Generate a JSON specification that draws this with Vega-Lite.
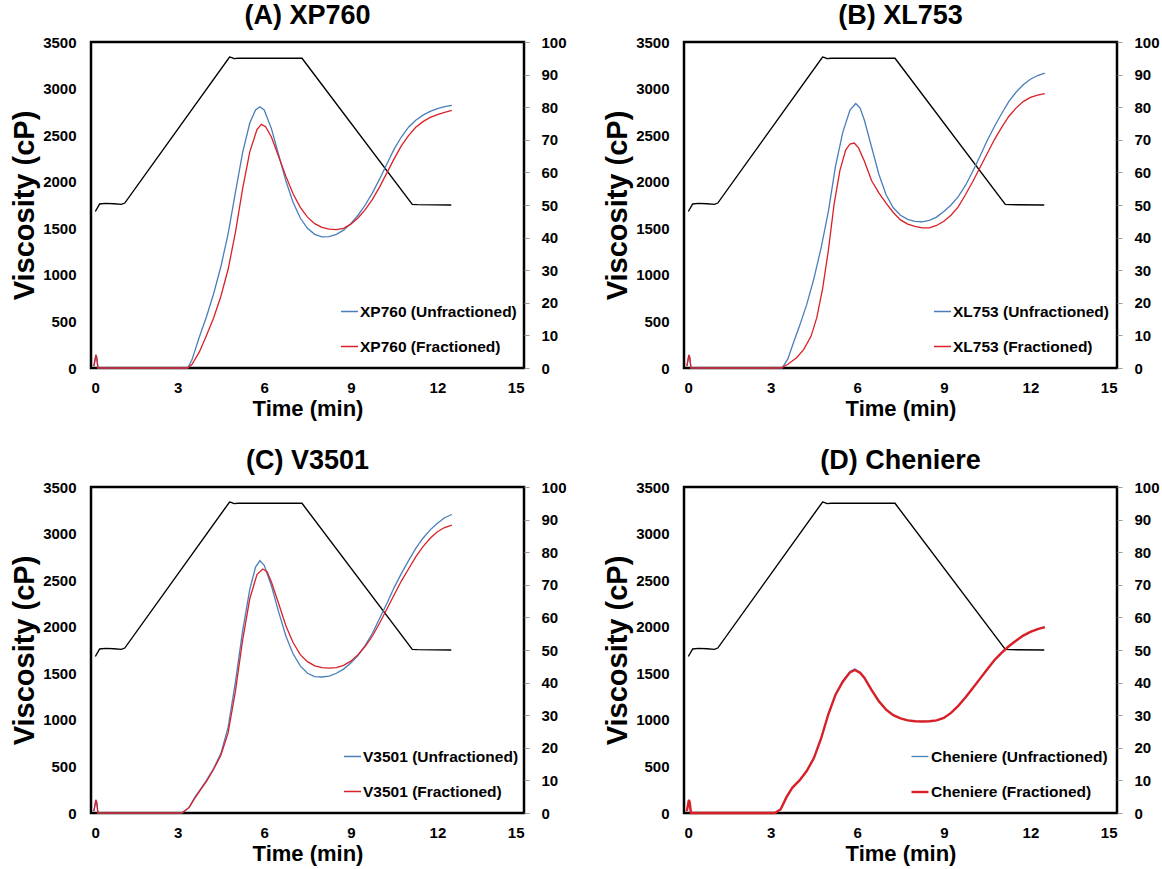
{
  "$schema": "https://vega.github.io/schema/vega-lite/v6.json",
  "background": "white",
  "padding": {"left": 9, "top": 0, "right": 5, "bottom": 5},
  "bounds": "flush",
  "columns": 2,
  "spacing": {"row": 119, "column": 160},
  "resolve": {"scale": {"color": "independent", "strokeWidth": "independent"}, "legend": {"color": "independent", "strokeWidth": "independent"}},
  "config": {
    "font": "Liberation Sans",
    "view": {"stroke": "black", "strokeWidth": 2.5},
    "axis": {"labelFont": "Liberation Sans", "labelFontSize": 15, "labelFontWeight": "bold", "labelColor": "black", "titleFont": "Liberation Sans", "titleFontWeight": "bold", "titleColor": "black", "grid": false, "domain": false, "ticks": false, "format": "d"},
    "axisLeft": {"titleFontSize": 29, "labelPadding": 15, "titlePadding": 3},
    "axisRight": {"ticks": true, "tickSize": 5, "tickColor": "#999999", "tickWidth": 1, "labelPadding": 12},
    "axisBottom": {"titleFontSize": 22, "labelPadding": 12, "titlePadding": 3},
    "title": {"font": "Liberation Sans", "fontSize": 27, "fontWeight": "bold", "color": "black", "frame": "group", "offset": 5},
    "legend": {"orient": "none", "legendX": 249, "legendY": 260, "padding": 0, "labelFont": "Liberation Sans", "labelFontSize": 15.5, "labelFontWeight": "bold", "labelColor": "black", "symbolType": "stroke", "symbolSize": 289, "symbolStrokeWidth": 1.5, "rowPadding": 17, "labelOffset": 1, "labelLimit": 400}
  },
  "datasets": {
    "temp": [
      {"t": 0.15, "temp": 48.0}, {"t": 0.3, "temp": 50.3}, {"t": 0.5, "temp": 50.5}, {"t": 0.8, "temp": 50.4},
      {"t": 1.05, "temp": 50.2}, {"t": 1.17, "temp": 50.6}, {"t": 4.8, "temp": 95.4}, {"t": 4.88, "temp": 95.2},
      {"t": 4.95, "temp": 94.9}, {"t": 5.1, "temp": 95.0}, {"t": 7.31, "temp": 95.0}, {"t": 11.13, "temp": 50.2},
      {"t": 11.3, "temp": 50.1}, {"t": 12.48, "temp": 50.0}
    ],
    "visc": [
      {"panel": "A", "series": "XP760 (Unfractioned)", "t": 0.1, "v": 20},
      {"panel": "A", "series": "XP760 (Unfractioned)", "t": 0.17, "v": 140},
      {"panel": "A", "series": "XP760 (Unfractioned)", "t": 0.2, "v": 110},
      {"panel": "A", "series": "XP760 (Unfractioned)", "t": 0.24, "v": 0},
      {"panel": "A", "series": "XP760 (Unfractioned)", "t": 1, "v": 0},
      {"panel": "A", "series": "XP760 (Unfractioned)", "t": 2, "v": 0},
      {"panel": "A", "series": "XP760 (Unfractioned)", "t": 3, "v": 0},
      {"panel": "A", "series": "XP760 (Unfractioned)", "t": 3.35, "v": 0},
      {"panel": "A", "series": "XP760 (Unfractioned)", "t": 3.5, "v": 90},
      {"panel": "A", "series": "XP760 (Unfractioned)", "t": 3.75, "v": 330},
      {"panel": "A", "series": "XP760 (Unfractioned)", "t": 4, "v": 550},
      {"panel": "A", "series": "XP760 (Unfractioned)", "t": 4.25, "v": 800},
      {"panel": "A", "series": "XP760 (Unfractioned)", "t": 4.5, "v": 1090},
      {"panel": "A", "series": "XP760 (Unfractioned)", "t": 4.75, "v": 1440},
      {"panel": "A", "series": "XP760 (Unfractioned)", "t": 5, "v": 1880},
      {"panel": "A", "series": "XP760 (Unfractioned)", "t": 5.25, "v": 2310},
      {"panel": "A", "series": "XP760 (Unfractioned)", "t": 5.5, "v": 2630},
      {"panel": "A", "series": "XP760 (Unfractioned)", "t": 5.7, "v": 2770},
      {"panel": "A", "series": "XP760 (Unfractioned)", "t": 5.85, "v": 2805},
      {"panel": "A", "series": "XP760 (Unfractioned)", "t": 6, "v": 2770},
      {"panel": "A", "series": "XP760 (Unfractioned)", "t": 6.25, "v": 2570},
      {"panel": "A", "series": "XP760 (Unfractioned)", "t": 6.5, "v": 2290},
      {"panel": "A", "series": "XP760 (Unfractioned)", "t": 6.75, "v": 2010},
      {"panel": "A", "series": "XP760 (Unfractioned)", "t": 7, "v": 1780},
      {"panel": "A", "series": "XP760 (Unfractioned)", "t": 7.25, "v": 1610},
      {"panel": "A", "series": "XP760 (Unfractioned)", "t": 7.5, "v": 1500},
      {"panel": "A", "series": "XP760 (Unfractioned)", "t": 7.75, "v": 1435},
      {"panel": "A", "series": "XP760 (Unfractioned)", "t": 8, "v": 1408},
      {"panel": "A", "series": "XP760 (Unfractioned)", "t": 8.25, "v": 1410},
      {"panel": "A", "series": "XP760 (Unfractioned)", "t": 8.5, "v": 1435},
      {"panel": "A", "series": "XP760 (Unfractioned)", "t": 8.75, "v": 1480},
      {"panel": "A", "series": "XP760 (Unfractioned)", "t": 9, "v": 1550},
      {"panel": "A", "series": "XP760 (Unfractioned)", "t": 9.25, "v": 1640},
      {"panel": "A", "series": "XP760 (Unfractioned)", "t": 9.5, "v": 1750},
      {"panel": "A", "series": "XP760 (Unfractioned)", "t": 9.75, "v": 1880},
      {"panel": "A", "series": "XP760 (Unfractioned)", "t": 10, "v": 2030},
      {"panel": "A", "series": "XP760 (Unfractioned)", "t": 10.25, "v": 2190},
      {"panel": "A", "series": "XP760 (Unfractioned)", "t": 10.5, "v": 2350},
      {"panel": "A", "series": "XP760 (Unfractioned)", "t": 10.75, "v": 2480},
      {"panel": "A", "series": "XP760 (Unfractioned)", "t": 11, "v": 2585},
      {"panel": "A", "series": "XP760 (Unfractioned)", "t": 11.25, "v": 2660},
      {"panel": "A", "series": "XP760 (Unfractioned)", "t": 11.5, "v": 2715},
      {"panel": "A", "series": "XP760 (Unfractioned)", "t": 11.75, "v": 2755},
      {"panel": "A", "series": "XP760 (Unfractioned)", "t": 12, "v": 2785},
      {"panel": "A", "series": "XP760 (Unfractioned)", "t": 12.25, "v": 2805},
      {"panel": "A", "series": "XP760 (Unfractioned)", "t": 12.5, "v": 2820},

      {"panel": "A", "series": "XP760 (Fractioned)", "t": 0.1, "v": 20},
      {"panel": "A", "series": "XP760 (Fractioned)", "t": 0.17, "v": 140},
      {"panel": "A", "series": "XP760 (Fractioned)", "t": 0.2, "v": 110},
      {"panel": "A", "series": "XP760 (Fractioned)", "t": 0.24, "v": 0},
      {"panel": "A", "series": "XP760 (Fractioned)", "t": 1, "v": 0},
      {"panel": "A", "series": "XP760 (Fractioned)", "t": 2, "v": 0},
      {"panel": "A", "series": "XP760 (Fractioned)", "t": 3, "v": 0},
      {"panel": "A", "series": "XP760 (Fractioned)", "t": 3.35, "v": 0},
      {"panel": "A", "series": "XP760 (Fractioned)", "t": 3.5, "v": 40},
      {"panel": "A", "series": "XP760 (Fractioned)", "t": 3.75, "v": 170},
      {"panel": "A", "series": "XP760 (Fractioned)", "t": 4, "v": 350},
      {"panel": "A", "series": "XP760 (Fractioned)", "t": 4.25, "v": 540},
      {"panel": "A", "series": "XP760 (Fractioned)", "t": 4.5, "v": 770},
      {"panel": "A", "series": "XP760 (Fractioned)", "t": 4.75, "v": 1060},
      {"panel": "A", "series": "XP760 (Fractioned)", "t": 5, "v": 1450},
      {"panel": "A", "series": "XP760 (Fractioned)", "t": 5.25, "v": 1920},
      {"panel": "A", "series": "XP760 (Fractioned)", "t": 5.5, "v": 2320},
      {"panel": "A", "series": "XP760 (Fractioned)", "t": 5.75, "v": 2560},
      {"panel": "A", "series": "XP760 (Fractioned)", "t": 5.9, "v": 2615},
      {"panel": "A", "series": "XP760 (Fractioned)", "t": 6.05, "v": 2590},
      {"panel": "A", "series": "XP760 (Fractioned)", "t": 6.25, "v": 2480},
      {"panel": "A", "series": "XP760 (Fractioned)", "t": 6.5, "v": 2270},
      {"panel": "A", "series": "XP760 (Fractioned)", "t": 6.75, "v": 2060},
      {"panel": "A", "series": "XP760 (Fractioned)", "t": 7, "v": 1870},
      {"panel": "A", "series": "XP760 (Fractioned)", "t": 7.25, "v": 1725},
      {"panel": "A", "series": "XP760 (Fractioned)", "t": 7.5, "v": 1620},
      {"panel": "A", "series": "XP760 (Fractioned)", "t": 7.75, "v": 1550},
      {"panel": "A", "series": "XP760 (Fractioned)", "t": 8, "v": 1510},
      {"panel": "A", "series": "XP760 (Fractioned)", "t": 8.25, "v": 1490},
      {"panel": "A", "series": "XP760 (Fractioned)", "t": 8.5, "v": 1485},
      {"panel": "A", "series": "XP760 (Fractioned)", "t": 8.75, "v": 1500},
      {"panel": "A", "series": "XP760 (Fractioned)", "t": 9, "v": 1545},
      {"panel": "A", "series": "XP760 (Fractioned)", "t": 9.25, "v": 1610},
      {"panel": "A", "series": "XP760 (Fractioned)", "t": 9.5, "v": 1700},
      {"panel": "A", "series": "XP760 (Fractioned)", "t": 9.75, "v": 1810},
      {"panel": "A", "series": "XP760 (Fractioned)", "t": 10, "v": 1945},
      {"panel": "A", "series": "XP760 (Fractioned)", "t": 10.25, "v": 2095},
      {"panel": "A", "series": "XP760 (Fractioned)", "t": 10.5, "v": 2245},
      {"panel": "A", "series": "XP760 (Fractioned)", "t": 10.75, "v": 2385},
      {"panel": "A", "series": "XP760 (Fractioned)", "t": 11, "v": 2495},
      {"panel": "A", "series": "XP760 (Fractioned)", "t": 11.25, "v": 2585},
      {"panel": "A", "series": "XP760 (Fractioned)", "t": 11.5, "v": 2645},
      {"panel": "A", "series": "XP760 (Fractioned)", "t": 11.75, "v": 2690},
      {"panel": "A", "series": "XP760 (Fractioned)", "t": 12, "v": 2720},
      {"panel": "A", "series": "XP760 (Fractioned)", "t": 12.25, "v": 2745},
      {"panel": "A", "series": "XP760 (Fractioned)", "t": 12.5, "v": 2765},

      {"panel": "B", "series": "XL753 (Unfractioned)", "t": 0.1, "v": 20},
      {"panel": "B", "series": "XL753 (Unfractioned)", "t": 0.17, "v": 140},
      {"panel": "B", "series": "XL753 (Unfractioned)", "t": 0.2, "v": 110},
      {"panel": "B", "series": "XL753 (Unfractioned)", "t": 0.24, "v": 0},
      {"panel": "B", "series": "XL753 (Unfractioned)", "t": 1, "v": 0},
      {"panel": "B", "series": "XL753 (Unfractioned)", "t": 2, "v": 0},
      {"panel": "B", "series": "XL753 (Unfractioned)", "t": 3, "v": 0},
      {"panel": "B", "series": "XL753 (Unfractioned)", "t": 3.4, "v": 0},
      {"panel": "B", "series": "XL753 (Unfractioned)", "t": 3.6, "v": 100},
      {"panel": "B", "series": "XL753 (Unfractioned)", "t": 3.8, "v": 280},
      {"panel": "B", "series": "XL753 (Unfractioned)", "t": 4, "v": 450},
      {"panel": "B", "series": "XL753 (Unfractioned)", "t": 4.25, "v": 680},
      {"panel": "B", "series": "XL753 (Unfractioned)", "t": 4.5, "v": 960},
      {"panel": "B", "series": "XL753 (Unfractioned)", "t": 4.75, "v": 1290},
      {"panel": "B", "series": "XL753 (Unfractioned)", "t": 5, "v": 1680},
      {"panel": "B", "series": "XL753 (Unfractioned)", "t": 5.25, "v": 2170},
      {"panel": "B", "series": "XL753 (Unfractioned)", "t": 5.5, "v": 2530},
      {"panel": "B", "series": "XL753 (Unfractioned)", "t": 5.75, "v": 2770},
      {"panel": "B", "series": "XL753 (Unfractioned)", "t": 5.95, "v": 2840},
      {"panel": "B", "series": "XL753 (Unfractioned)", "t": 6.1, "v": 2790},
      {"panel": "B", "series": "XL753 (Unfractioned)", "t": 6.25, "v": 2660},
      {"panel": "B", "series": "XL753 (Unfractioned)", "t": 6.5, "v": 2370},
      {"panel": "B", "series": "XL753 (Unfractioned)", "t": 6.75, "v": 2080},
      {"panel": "B", "series": "XL753 (Unfractioned)", "t": 7, "v": 1860},
      {"panel": "B", "series": "XL753 (Unfractioned)", "t": 7.25, "v": 1720},
      {"panel": "B", "series": "XL753 (Unfractioned)", "t": 7.5, "v": 1640},
      {"panel": "B", "series": "XL753 (Unfractioned)", "t": 7.75, "v": 1595},
      {"panel": "B", "series": "XL753 (Unfractioned)", "t": 8, "v": 1575},
      {"panel": "B", "series": "XL753 (Unfractioned)", "t": 8.25, "v": 1570},
      {"panel": "B", "series": "XL753 (Unfractioned)", "t": 8.5, "v": 1585},
      {"panel": "B", "series": "XL753 (Unfractioned)", "t": 8.75, "v": 1620},
      {"panel": "B", "series": "XL753 (Unfractioned)", "t": 9, "v": 1680},
      {"panel": "B", "series": "XL753 (Unfractioned)", "t": 9.25, "v": 1750},
      {"panel": "B", "series": "XL753 (Unfractioned)", "t": 9.5, "v": 1840},
      {"panel": "B", "series": "XL753 (Unfractioned)", "t": 9.75, "v": 1960},
      {"panel": "B", "series": "XL753 (Unfractioned)", "t": 10, "v": 2110},
      {"panel": "B", "series": "XL753 (Unfractioned)", "t": 10.25, "v": 2270},
      {"panel": "B", "series": "XL753 (Unfractioned)", "t": 10.5, "v": 2440},
      {"panel": "B", "series": "XL753 (Unfractioned)", "t": 10.75, "v": 2590},
      {"panel": "B", "series": "XL753 (Unfractioned)", "t": 11, "v": 2730},
      {"panel": "B", "series": "XL753 (Unfractioned)", "t": 11.25, "v": 2860},
      {"panel": "B", "series": "XL753 (Unfractioned)", "t": 11.5, "v": 2960},
      {"panel": "B", "series": "XL753 (Unfractioned)", "t": 11.75, "v": 3040},
      {"panel": "B", "series": "XL753 (Unfractioned)", "t": 12, "v": 3100},
      {"panel": "B", "series": "XL753 (Unfractioned)", "t": 12.25, "v": 3140},
      {"panel": "B", "series": "XL753 (Unfractioned)", "t": 12.5, "v": 3165},

      {"panel": "B", "series": "XL753 (Fractioned)", "t": 0.1, "v": 20},
      {"panel": "B", "series": "XL753 (Fractioned)", "t": 0.17, "v": 140},
      {"panel": "B", "series": "XL753 (Fractioned)", "t": 0.2, "v": 110},
      {"panel": "B", "series": "XL753 (Fractioned)", "t": 0.24, "v": 0},
      {"panel": "B", "series": "XL753 (Fractioned)", "t": 1, "v": 0},
      {"panel": "B", "series": "XL753 (Fractioned)", "t": 2, "v": 0},
      {"panel": "B", "series": "XL753 (Fractioned)", "t": 3, "v": 0},
      {"panel": "B", "series": "XL753 (Fractioned)", "t": 3.35, "v": 0},
      {"panel": "B", "series": "XL753 (Fractioned)", "t": 3.6, "v": 40},
      {"panel": "B", "series": "XL753 (Fractioned)", "t": 3.9, "v": 110},
      {"panel": "B", "series": "XL753 (Fractioned)", "t": 4.15, "v": 200},
      {"panel": "B", "series": "XL753 (Fractioned)", "t": 4.4, "v": 340},
      {"panel": "B", "series": "XL753 (Fractioned)", "t": 4.6, "v": 540},
      {"panel": "B", "series": "XL753 (Fractioned)", "t": 4.8, "v": 850},
      {"panel": "B", "series": "XL753 (Fractioned)", "t": 5, "v": 1260},
      {"panel": "B", "series": "XL753 (Fractioned)", "t": 5.2, "v": 1760},
      {"panel": "B", "series": "XL753 (Fractioned)", "t": 5.4, "v": 2120},
      {"panel": "B", "series": "XL753 (Fractioned)", "t": 5.6, "v": 2340},
      {"panel": "B", "series": "XL753 (Fractioned)", "t": 5.75, "v": 2405},
      {"panel": "B", "series": "XL753 (Fractioned)", "t": 5.9, "v": 2415},
      {"panel": "B", "series": "XL753 (Fractioned)", "t": 6.05, "v": 2360},
      {"panel": "B", "series": "XL753 (Fractioned)", "t": 6.25, "v": 2220},
      {"panel": "B", "series": "XL753 (Fractioned)", "t": 6.5, "v": 2010},
      {"panel": "B", "series": "XL753 (Fractioned)", "t": 6.75, "v": 1880},
      {"panel": "B", "series": "XL753 (Fractioned)", "t": 7, "v": 1770},
      {"panel": "B", "series": "XL753 (Fractioned)", "t": 7.25, "v": 1670},
      {"panel": "B", "series": "XL753 (Fractioned)", "t": 7.5, "v": 1590},
      {"panel": "B", "series": "XL753 (Fractioned)", "t": 7.75, "v": 1545},
      {"panel": "B", "series": "XL753 (Fractioned)", "t": 8, "v": 1520},
      {"panel": "B", "series": "XL753 (Fractioned)", "t": 8.25, "v": 1505},
      {"panel": "B", "series": "XL753 (Fractioned)", "t": 8.5, "v": 1505},
      {"panel": "B", "series": "XL753 (Fractioned)", "t": 8.75, "v": 1530},
      {"panel": "B", "series": "XL753 (Fractioned)", "t": 9, "v": 1575},
      {"panel": "B", "series": "XL753 (Fractioned)", "t": 9.25, "v": 1640},
      {"panel": "B", "series": "XL753 (Fractioned)", "t": 9.5, "v": 1730},
      {"panel": "B", "series": "XL753 (Fractioned)", "t": 9.75, "v": 1860},
      {"panel": "B", "series": "XL753 (Fractioned)", "t": 10, "v": 2000},
      {"panel": "B", "series": "XL753 (Fractioned)", "t": 10.25, "v": 2150},
      {"panel": "B", "series": "XL753 (Fractioned)", "t": 10.5, "v": 2300},
      {"panel": "B", "series": "XL753 (Fractioned)", "t": 10.75, "v": 2450},
      {"panel": "B", "series": "XL753 (Fractioned)", "t": 11, "v": 2580},
      {"panel": "B", "series": "XL753 (Fractioned)", "t": 11.25, "v": 2700},
      {"panel": "B", "series": "XL753 (Fractioned)", "t": 11.5, "v": 2790},
      {"panel": "B", "series": "XL753 (Fractioned)", "t": 11.75, "v": 2860},
      {"panel": "B", "series": "XL753 (Fractioned)", "t": 12, "v": 2905},
      {"panel": "B", "series": "XL753 (Fractioned)", "t": 12.25, "v": 2930},
      {"panel": "B", "series": "XL753 (Fractioned)", "t": 12.5, "v": 2945},

      {"panel": "C", "series": "V3501 (Unfractioned)", "t": 0.1, "v": 20},
      {"panel": "C", "series": "V3501 (Unfractioned)", "t": 0.17, "v": 140},
      {"panel": "C", "series": "V3501 (Unfractioned)", "t": 0.2, "v": 110},
      {"panel": "C", "series": "V3501 (Unfractioned)", "t": 0.24, "v": 0},
      {"panel": "C", "series": "V3501 (Unfractioned)", "t": 1, "v": 0},
      {"panel": "C", "series": "V3501 (Unfractioned)", "t": 2, "v": 0},
      {"panel": "C", "series": "V3501 (Unfractioned)", "t": 3, "v": 0},
      {"panel": "C", "series": "V3501 (Unfractioned)", "t": 3.15, "v": 0},
      {"panel": "C", "series": "V3501 (Unfractioned)", "t": 3.4, "v": 60},
      {"panel": "C", "series": "V3501 (Unfractioned)", "t": 3.6, "v": 170},
      {"panel": "C", "series": "V3501 (Unfractioned)", "t": 3.8, "v": 260},
      {"panel": "C", "series": "V3501 (Unfractioned)", "t": 4, "v": 350},
      {"panel": "C", "series": "V3501 (Unfractioned)", "t": 4.25, "v": 480},
      {"panel": "C", "series": "V3501 (Unfractioned)", "t": 4.5, "v": 640},
      {"panel": "C", "series": "V3501 (Unfractioned)", "t": 4.75, "v": 920},
      {"panel": "C", "series": "V3501 (Unfractioned)", "t": 5, "v": 1400},
      {"panel": "C", "series": "V3501 (Unfractioned)", "t": 5.25, "v": 1950},
      {"panel": "C", "series": "V3501 (Unfractioned)", "t": 5.5, "v": 2400},
      {"panel": "C", "series": "V3501 (Unfractioned)", "t": 5.7, "v": 2640},
      {"panel": "C", "series": "V3501 (Unfractioned)", "t": 5.85, "v": 2710},
      {"panel": "C", "series": "V3501 (Unfractioned)", "t": 6, "v": 2660},
      {"panel": "C", "series": "V3501 (Unfractioned)", "t": 6.25, "v": 2440},
      {"panel": "C", "series": "V3501 (Unfractioned)", "t": 6.5, "v": 2160},
      {"panel": "C", "series": "V3501 (Unfractioned)", "t": 6.75, "v": 1900},
      {"panel": "C", "series": "V3501 (Unfractioned)", "t": 7, "v": 1710},
      {"panel": "C", "series": "V3501 (Unfractioned)", "t": 7.25, "v": 1580},
      {"panel": "C", "series": "V3501 (Unfractioned)", "t": 7.5, "v": 1500},
      {"panel": "C", "series": "V3501 (Unfractioned)", "t": 7.75, "v": 1465},
      {"panel": "C", "series": "V3501 (Unfractioned)", "t": 8, "v": 1460},
      {"panel": "C", "series": "V3501 (Unfractioned)", "t": 8.25, "v": 1470},
      {"panel": "C", "series": "V3501 (Unfractioned)", "t": 8.5, "v": 1500},
      {"panel": "C", "series": "V3501 (Unfractioned)", "t": 8.75, "v": 1545},
      {"panel": "C", "series": "V3501 (Unfractioned)", "t": 9, "v": 1610},
      {"panel": "C", "series": "V3501 (Unfractioned)", "t": 9.25, "v": 1690},
      {"panel": "C", "series": "V3501 (Unfractioned)", "t": 9.5, "v": 1800},
      {"panel": "C", "series": "V3501 (Unfractioned)", "t": 9.75, "v": 1930},
      {"panel": "C", "series": "V3501 (Unfractioned)", "t": 10, "v": 2090},
      {"panel": "C", "series": "V3501 (Unfractioned)", "t": 10.25, "v": 2250},
      {"panel": "C", "series": "V3501 (Unfractioned)", "t": 10.5, "v": 2420},
      {"panel": "C", "series": "V3501 (Unfractioned)", "t": 10.75, "v": 2570},
      {"panel": "C", "series": "V3501 (Unfractioned)", "t": 11, "v": 2710},
      {"panel": "C", "series": "V3501 (Unfractioned)", "t": 11.25, "v": 2840},
      {"panel": "C", "series": "V3501 (Unfractioned)", "t": 11.5, "v": 2950},
      {"panel": "C", "series": "V3501 (Unfractioned)", "t": 11.75, "v": 3040},
      {"panel": "C", "series": "V3501 (Unfractioned)", "t": 12, "v": 3110},
      {"panel": "C", "series": "V3501 (Unfractioned)", "t": 12.25, "v": 3170},
      {"panel": "C", "series": "V3501 (Unfractioned)", "t": 12.5, "v": 3205},

      {"panel": "C", "series": "V3501 (Fractioned)", "t": 0.1, "v": 20},
      {"panel": "C", "series": "V3501 (Fractioned)", "t": 0.17, "v": 140},
      {"panel": "C", "series": "V3501 (Fractioned)", "t": 0.2, "v": 110},
      {"panel": "C", "series": "V3501 (Fractioned)", "t": 0.24, "v": 0},
      {"panel": "C", "series": "V3501 (Fractioned)", "t": 1, "v": 0},
      {"panel": "C", "series": "V3501 (Fractioned)", "t": 2, "v": 0},
      {"panel": "C", "series": "V3501 (Fractioned)", "t": 3, "v": 0},
      {"panel": "C", "series": "V3501 (Fractioned)", "t": 3.15, "v": 0},
      {"panel": "C", "series": "V3501 (Fractioned)", "t": 3.4, "v": 60},
      {"panel": "C", "series": "V3501 (Fractioned)", "t": 3.6, "v": 160},
      {"panel": "C", "series": "V3501 (Fractioned)", "t": 3.8, "v": 250},
      {"panel": "C", "series": "V3501 (Fractioned)", "t": 4, "v": 340},
      {"panel": "C", "series": "V3501 (Fractioned)", "t": 4.25, "v": 470},
      {"panel": "C", "series": "V3501 (Fractioned)", "t": 4.5, "v": 620},
      {"panel": "C", "series": "V3501 (Fractioned)", "t": 4.75, "v": 860},
      {"panel": "C", "series": "V3501 (Fractioned)", "t": 5, "v": 1300},
      {"panel": "C", "series": "V3501 (Fractioned)", "t": 5.25, "v": 1850},
      {"panel": "C", "series": "V3501 (Fractioned)", "t": 5.5, "v": 2300},
      {"panel": "C", "series": "V3501 (Fractioned)", "t": 5.75, "v": 2560},
      {"panel": "C", "series": "V3501 (Fractioned)", "t": 5.95, "v": 2620},
      {"panel": "C", "series": "V3501 (Fractioned)", "t": 6.1, "v": 2590},
      {"panel": "C", "series": "V3501 (Fractioned)", "t": 6.25, "v": 2480},
      {"panel": "C", "series": "V3501 (Fractioned)", "t": 6.5, "v": 2250},
      {"panel": "C", "series": "V3501 (Fractioned)", "t": 6.75, "v": 2010},
      {"panel": "C", "series": "V3501 (Fractioned)", "t": 7, "v": 1830},
      {"panel": "C", "series": "V3501 (Fractioned)", "t": 7.25, "v": 1700},
      {"panel": "C", "series": "V3501 (Fractioned)", "t": 7.5, "v": 1625},
      {"panel": "C", "series": "V3501 (Fractioned)", "t": 7.75, "v": 1580},
      {"panel": "C", "series": "V3501 (Fractioned)", "t": 8, "v": 1560},
      {"panel": "C", "series": "V3501 (Fractioned)", "t": 8.25, "v": 1555},
      {"panel": "C", "series": "V3501 (Fractioned)", "t": 8.5, "v": 1560},
      {"panel": "C", "series": "V3501 (Fractioned)", "t": 8.75, "v": 1585},
      {"panel": "C", "series": "V3501 (Fractioned)", "t": 9, "v": 1630},
      {"panel": "C", "series": "V3501 (Fractioned)", "t": 9.25, "v": 1700},
      {"panel": "C", "series": "V3501 (Fractioned)", "t": 9.5, "v": 1790},
      {"panel": "C", "series": "V3501 (Fractioned)", "t": 9.75, "v": 1900},
      {"panel": "C", "series": "V3501 (Fractioned)", "t": 10, "v": 2040},
      {"panel": "C", "series": "V3501 (Fractioned)", "t": 10.25, "v": 2190},
      {"panel": "C", "series": "V3501 (Fractioned)", "t": 10.5, "v": 2340},
      {"panel": "C", "series": "V3501 (Fractioned)", "t": 10.75, "v": 2490},
      {"panel": "C", "series": "V3501 (Fractioned)", "t": 11, "v": 2620},
      {"panel": "C", "series": "V3501 (Fractioned)", "t": 11.25, "v": 2750},
      {"panel": "C", "series": "V3501 (Fractioned)", "t": 11.5, "v": 2860},
      {"panel": "C", "series": "V3501 (Fractioned)", "t": 11.75, "v": 2950},
      {"panel": "C", "series": "V3501 (Fractioned)", "t": 12, "v": 3020},
      {"panel": "C", "series": "V3501 (Fractioned)", "t": 12.25, "v": 3065},
      {"panel": "C", "series": "V3501 (Fractioned)", "t": 12.5, "v": 3090},

      {"panel": "D", "series": "Cheniere (Unfractioned)", "t": 0.1, "v": 20},
      {"panel": "D", "series": "Cheniere (Unfractioned)", "t": 0.17, "v": 140},
      {"panel": "D", "series": "Cheniere (Unfractioned)", "t": 0.2, "v": 110},
      {"panel": "D", "series": "Cheniere (Unfractioned)", "t": 0.24, "v": 0},
      {"panel": "D", "series": "Cheniere (Unfractioned)", "t": 1, "v": 0},
      {"panel": "D", "series": "Cheniere (Unfractioned)", "t": 2, "v": 0},
      {"panel": "D", "series": "Cheniere (Unfractioned)", "t": 3, "v": 0},
      {"panel": "D", "series": "Cheniere (Unfractioned)", "t": 3.15, "v": 0},
      {"panel": "D", "series": "Cheniere (Unfractioned)", "t": 3.35, "v": 40},
      {"panel": "D", "series": "Cheniere (Unfractioned)", "t": 3.55, "v": 170},
      {"panel": "D", "series": "Cheniere (Unfractioned)", "t": 3.75, "v": 270},
      {"panel": "D", "series": "Cheniere (Unfractioned)", "t": 4, "v": 350},
      {"panel": "D", "series": "Cheniere (Unfractioned)", "t": 4.25, "v": 450},
      {"panel": "D", "series": "Cheniere (Unfractioned)", "t": 4.5, "v": 590},
      {"panel": "D", "series": "Cheniere (Unfractioned)", "t": 4.75, "v": 800},
      {"panel": "D", "series": "Cheniere (Unfractioned)", "t": 5, "v": 1060},
      {"panel": "D", "series": "Cheniere (Unfractioned)", "t": 5.25, "v": 1275},
      {"panel": "D", "series": "Cheniere (Unfractioned)", "t": 5.5, "v": 1420},
      {"panel": "D", "series": "Cheniere (Unfractioned)", "t": 5.75, "v": 1520},
      {"panel": "D", "series": "Cheniere (Unfractioned)", "t": 5.92, "v": 1545},
      {"panel": "D", "series": "Cheniere (Unfractioned)", "t": 6.1, "v": 1510},
      {"panel": "D", "series": "Cheniere (Unfractioned)", "t": 6.25, "v": 1455},
      {"panel": "D", "series": "Cheniere (Unfractioned)", "t": 6.5, "v": 1325},
      {"panel": "D", "series": "Cheniere (Unfractioned)", "t": 6.75, "v": 1205},
      {"panel": "D", "series": "Cheniere (Unfractioned)", "t": 7, "v": 1112},
      {"panel": "D", "series": "Cheniere (Unfractioned)", "t": 7.25, "v": 1052},
      {"panel": "D", "series": "Cheniere (Unfractioned)", "t": 7.5, "v": 1016},
      {"panel": "D", "series": "Cheniere (Unfractioned)", "t": 7.75, "v": 996},
      {"panel": "D", "series": "Cheniere (Unfractioned)", "t": 8, "v": 986},
      {"panel": "D", "series": "Cheniere (Unfractioned)", "t": 8.25, "v": 983},
      {"panel": "D", "series": "Cheniere (Unfractioned)", "t": 8.5, "v": 985},
      {"panel": "D", "series": "Cheniere (Unfractioned)", "t": 8.75, "v": 995},
      {"panel": "D", "series": "Cheniere (Unfractioned)", "t": 9, "v": 1020},
      {"panel": "D", "series": "Cheniere (Unfractioned)", "t": 9.25, "v": 1075},
      {"panel": "D", "series": "Cheniere (Unfractioned)", "t": 9.5, "v": 1150},
      {"panel": "D", "series": "Cheniere (Unfractioned)", "t": 9.75, "v": 1240},
      {"panel": "D", "series": "Cheniere (Unfractioned)", "t": 10, "v": 1340},
      {"panel": "D", "series": "Cheniere (Unfractioned)", "t": 10.25, "v": 1440},
      {"panel": "D", "series": "Cheniere (Unfractioned)", "t": 10.5, "v": 1540},
      {"panel": "D", "series": "Cheniere (Unfractioned)", "t": 10.75, "v": 1640},
      {"panel": "D", "series": "Cheniere (Unfractioned)", "t": 11, "v": 1720},
      {"panel": "D", "series": "Cheniere (Unfractioned)", "t": 11.25, "v": 1790},
      {"panel": "D", "series": "Cheniere (Unfractioned)", "t": 11.5, "v": 1850},
      {"panel": "D", "series": "Cheniere (Unfractioned)", "t": 11.75, "v": 1905},
      {"panel": "D", "series": "Cheniere (Unfractioned)", "t": 12, "v": 1945},
      {"panel": "D", "series": "Cheniere (Unfractioned)", "t": 12.25, "v": 1975},
      {"panel": "D", "series": "Cheniere (Unfractioned)", "t": 12.5, "v": 1995},

      {"panel": "D", "series": "Cheniere (Fractioned)", "t": 0.1, "v": 20},
      {"panel": "D", "series": "Cheniere (Fractioned)", "t": 0.17, "v": 140},
      {"panel": "D", "series": "Cheniere (Fractioned)", "t": 0.2, "v": 110},
      {"panel": "D", "series": "Cheniere (Fractioned)", "t": 0.24, "v": 0},
      {"panel": "D", "series": "Cheniere (Fractioned)", "t": 1, "v": 0},
      {"panel": "D", "series": "Cheniere (Fractioned)", "t": 2, "v": 0},
      {"panel": "D", "series": "Cheniere (Fractioned)", "t": 3, "v": 0},
      {"panel": "D", "series": "Cheniere (Fractioned)", "t": 3.15, "v": 0},
      {"panel": "D", "series": "Cheniere (Fractioned)", "t": 3.35, "v": 40},
      {"panel": "D", "series": "Cheniere (Fractioned)", "t": 3.55, "v": 170},
      {"panel": "D", "series": "Cheniere (Fractioned)", "t": 3.75, "v": 270},
      {"panel": "D", "series": "Cheniere (Fractioned)", "t": 4, "v": 350},
      {"panel": "D", "series": "Cheniere (Fractioned)", "t": 4.25, "v": 450},
      {"panel": "D", "series": "Cheniere (Fractioned)", "t": 4.5, "v": 590},
      {"panel": "D", "series": "Cheniere (Fractioned)", "t": 4.75, "v": 800},
      {"panel": "D", "series": "Cheniere (Fractioned)", "t": 5, "v": 1060},
      {"panel": "D", "series": "Cheniere (Fractioned)", "t": 5.25, "v": 1270},
      {"panel": "D", "series": "Cheniere (Fractioned)", "t": 5.5, "v": 1410},
      {"panel": "D", "series": "Cheniere (Fractioned)", "t": 5.75, "v": 1510},
      {"panel": "D", "series": "Cheniere (Fractioned)", "t": 5.92, "v": 1535},
      {"panel": "D", "series": "Cheniere (Fractioned)", "t": 6.1, "v": 1505},
      {"panel": "D", "series": "Cheniere (Fractioned)", "t": 6.25, "v": 1450},
      {"panel": "D", "series": "Cheniere (Fractioned)", "t": 6.5, "v": 1320},
      {"panel": "D", "series": "Cheniere (Fractioned)", "t": 6.75, "v": 1200},
      {"panel": "D", "series": "Cheniere (Fractioned)", "t": 7, "v": 1110},
      {"panel": "D", "series": "Cheniere (Fractioned)", "t": 7.25, "v": 1050},
      {"panel": "D", "series": "Cheniere (Fractioned)", "t": 7.5, "v": 1015},
      {"panel": "D", "series": "Cheniere (Fractioned)", "t": 7.75, "v": 995},
      {"panel": "D", "series": "Cheniere (Fractioned)", "t": 8, "v": 985},
      {"panel": "D", "series": "Cheniere (Fractioned)", "t": 8.25, "v": 983},
      {"panel": "D", "series": "Cheniere (Fractioned)", "t": 8.5, "v": 985},
      {"panel": "D", "series": "Cheniere (Fractioned)", "t": 8.75, "v": 995},
      {"panel": "D", "series": "Cheniere (Fractioned)", "t": 9, "v": 1020},
      {"panel": "D", "series": "Cheniere (Fractioned)", "t": 9.25, "v": 1075},
      {"panel": "D", "series": "Cheniere (Fractioned)", "t": 9.5, "v": 1150},
      {"panel": "D", "series": "Cheniere (Fractioned)", "t": 9.75, "v": 1240},
      {"panel": "D", "series": "Cheniere (Fractioned)", "t": 10, "v": 1340},
      {"panel": "D", "series": "Cheniere (Fractioned)", "t": 10.25, "v": 1440},
      {"panel": "D", "series": "Cheniere (Fractioned)", "t": 10.5, "v": 1540},
      {"panel": "D", "series": "Cheniere (Fractioned)", "t": 10.75, "v": 1640},
      {"panel": "D", "series": "Cheniere (Fractioned)", "t": 11, "v": 1720},
      {"panel": "D", "series": "Cheniere (Fractioned)", "t": 11.25, "v": 1790},
      {"panel": "D", "series": "Cheniere (Fractioned)", "t": 11.5, "v": 1850},
      {"panel": "D", "series": "Cheniere (Fractioned)", "t": 11.75, "v": 1905},
      {"panel": "D", "series": "Cheniere (Fractioned)", "t": 12, "v": 1945},
      {"panel": "D", "series": "Cheniere (Fractioned)", "t": 12.25, "v": 1975},
      {"panel": "D", "series": "Cheniere (Fractioned)", "t": 12.5, "v": 1995}
    ]
  },
  "concat": [
    {
      "title": "(A) XP760",
      "width": 433, "height": 326,
      "layer": [
        {
          "data": {"name": "temp"},
          "mark": {"type": "line", "color": "black", "strokeWidth": 1.4},
          "encoding": {
            "x": {"field": "t", "type": "quantitative", "scale": {"domain": [0, 15]}, "axis": {"title": "Time (min)", "values": [0, 3, 6, 9, 12, 15]}},
            "y": {"field": "temp", "type": "quantitative", "scale": {"domain": [0, 100]}, "axis": {"orient": "right", "title": null, "values": [0, 10, 20, 30, 40, 50, 60, 70, 80, 90, 100]}}
          }
        },
        {
          "data": {"name": "visc"},
          "transform": [{"filter": "datum.panel === 'A'"}],
          "mark": {"type": "line", "strokeWidth": 1.3},
          "encoding": {
            "x": {"field": "t", "type": "quantitative", "scale": {"domain": [0, 15]}},
            "y": {"field": "v", "type": "quantitative", "scale": {"domain": [0, 3500]}, "axis": {"orient": "left", "title": "Viscosity (cP)", "values": [0, 500, 1000, 1500, 2000, 2500, 3000, 3500]}},
            "color": {"field": "series", "type": "nominal", "sort": null, "scale": {"domain": ["XP760 (Unfractioned)", "XP760 (Fractioned)"], "range": ["#4a7ebb", "#d92027"]}, "legend": {"title": null, "legendX": 249, "legendY": 260}}
          }
        }
      ],
      "resolve": {"scale": {"y": "independent"}}
    },
    {
      "title": "(B) XL753",
      "width": 433, "height": 326,
      "layer": [
        {
          "data": {"name": "temp"},
          "mark": {"type": "line", "color": "black", "strokeWidth": 1.4},
          "encoding": {
            "x": {"field": "t", "type": "quantitative", "scale": {"domain": [0, 15]}, "axis": {"title": "Time (min)", "values": [0, 3, 6, 9, 12, 15]}},
            "y": {"field": "temp", "type": "quantitative", "scale": {"domain": [0, 100]}, "axis": {"orient": "right", "title": null, "values": [0, 10, 20, 30, 40, 50, 60, 70, 80, 90, 100]}}
          }
        },
        {
          "data": {"name": "visc"},
          "transform": [{"filter": "datum.panel === 'B'"}],
          "mark": {"type": "line", "strokeWidth": 1.3},
          "encoding": {
            "x": {"field": "t", "type": "quantitative", "scale": {"domain": [0, 15]}},
            "y": {"field": "v", "type": "quantitative", "scale": {"domain": [0, 3500]}, "axis": {"orient": "left", "title": "Viscosity (cP)", "values": [0, 500, 1000, 1500, 2000, 2500, 3000, 3500]}},
            "color": {"field": "series", "type": "nominal", "sort": null, "scale": {"domain": ["XL753 (Unfractioned)", "XL753 (Fractioned)"], "range": ["#4a7ebb", "#d92027"]}, "legend": {"title": null, "legendX": 249, "legendY": 260}}
          }
        }
      ],
      "resolve": {"scale": {"y": "independent"}}
    },
    {
      "title": "(C) V3501",
      "width": 433, "height": 326,
      "layer": [
        {
          "data": {"name": "temp"},
          "mark": {"type": "line", "color": "black", "strokeWidth": 1.4},
          "encoding": {
            "x": {"field": "t", "type": "quantitative", "scale": {"domain": [0, 15]}, "axis": {"title": "Time (min)", "values": [0, 3, 6, 9, 12, 15]}},
            "y": {"field": "temp", "type": "quantitative", "scale": {"domain": [0, 100]}, "axis": {"orient": "right", "title": null, "values": [0, 10, 20, 30, 40, 50, 60, 70, 80, 90, 100]}}
          }
        },
        {
          "data": {"name": "visc"},
          "transform": [{"filter": "datum.panel === 'C'"}],
          "mark": {"type": "line", "strokeWidth": 1.3},
          "encoding": {
            "x": {"field": "t", "type": "quantitative", "scale": {"domain": [0, 15]}},
            "y": {"field": "v", "type": "quantitative", "scale": {"domain": [0, 3500]}, "axis": {"orient": "left", "title": "Viscosity (cP)", "values": [0, 500, 1000, 1500, 2000, 2500, 3000, 3500]}},
            "color": {"field": "series", "type": "nominal", "sort": null, "scale": {"domain": ["V3501 (Unfractioned)", "V3501 (Fractioned)"], "range": ["#4a7ebb", "#d92027"]}, "legend": {"title": null, "legendX": 252, "legendY": 260}}
          }
        }
      ],
      "resolve": {"scale": {"y": "independent"}}
    },
    {
      "title": "(D) Cheniere",
      "width": 433, "height": 326,
      "layer": [
        {
          "data": {"name": "temp"},
          "mark": {"type": "line", "color": "black", "strokeWidth": 1.4},
          "encoding": {
            "x": {"field": "t", "type": "quantitative", "scale": {"domain": [0, 15]}, "axis": {"title": "Time (min)", "values": [0, 3, 6, 9, 12, 15]}},
            "y": {"field": "temp", "type": "quantitative", "scale": {"domain": [0, 100]}, "axis": {"orient": "right", "title": null, "values": [0, 10, 20, 30, 40, 50, 60, 70, 80, 90, 100]}}
          }
        },
        {
          "data": {"name": "visc"},
          "transform": [{"filter": "datum.panel === 'D'"}],
          "mark": {"type": "line"},
          "encoding": {
            "x": {"field": "t", "type": "quantitative", "scale": {"domain": [0, 15]}},
            "y": {"field": "v", "type": "quantitative", "scale": {"domain": [0, 3500]}, "axis": {"orient": "left", "title": "Viscosity (cP)", "values": [0, 500, 1000, 1500, 2000, 2500, 3000, 3500]}},
            "color": {"field": "series", "type": "nominal", "sort": null, "scale": {"domain": ["Cheniere (Unfractioned)", "Cheniere (Fractioned)"], "range": ["#4a7ebb", "#d92027"]}, "legend": {"title": null, "legendX": 226, "legendY": 260}},
            "strokeWidth": {"field": "series", "type": "nominal", "sort": null, "scale": {"domain": ["Cheniere (Unfractioned)", "Cheniere (Fractioned)"], "range": [1.3, 2.4]}, "legend": null}
          }
        }
      ],
      "resolve": {"scale": {"y": "independent"}}
    }
  ]
}
